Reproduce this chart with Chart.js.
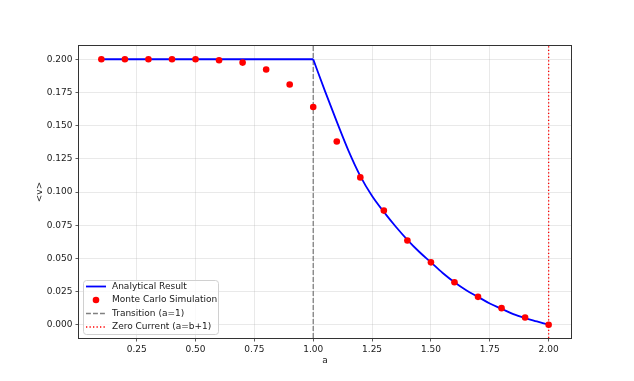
<!DOCTYPE html>
<html>
<head>
<meta charset="utf-8">
<script src="https://cdn.jsdelivr.net/npm/chart.js@4"></script>
<style>
  html, body { margin: 0; padding: 0; background: #fff; }
  #wrap { width: 634px; height: 381px; position: relative; }
</style>
</head>
<body>
<div id="wrap"><canvas id="c" width="634" height="381"></canvas></div>
<script>
// ---- Data ----
const mcA = [0.1, 0.2, 0.3, 0.4, 0.5, 0.6, 0.7, 0.8, 0.9, 1.0, 1.1, 1.2, 1.3, 1.4, 1.5, 1.6, 1.7, 1.8, 1.9, 2.0];
const mcV = [0.200, 0.200, 0.200, 0.200, 0.200, 0.1993, 0.1975, 0.1923, 0.181, 0.164, 0.138, 0.111, 0.086, 0.0635, 0.047, 0.032, 0.021, 0.0125, 0.0055, 0.0];

const flatA = [0.1, 1.0];
const flatV = [0.2, 0.2];
const curveA = [1.0, 1.05, 1.10, 1.15, 1.20, 1.25, 1.30, 1.35, 1.40, 1.45, 1.50, 1.55, 1.60, 1.65, 1.70, 1.75, 1.80, 1.85, 1.90, 1.95, 2.00];
const curveV = [0.200, 0.176, 0.153, 0.131, 0.112, 0.097, 0.085, 0.074, 0.064, 0.055, 0.047, 0.039, 0.032, 0.026, 0.021, 0.016, 0.012, 0.008, 0.005, 0.0025, 0.0];

const transitionA = 1.0;
const zeroCurrentA = 2.0;

const xTicks = [0.25, 0.50, 0.75, 1.00, 1.25, 1.50, 1.75, 2.00];
const yTicks = [0.000, 0.025, 0.050, 0.075, 0.100, 0.125, 0.150, 0.175, 0.200];
const xRange = [0.005, 2.095];
const yRange = [-0.01, 0.21];

const legendLabels = ['Analytical Result', 'Monte Carlo Simulation', 'Transition (a=1)', 'Zero Current (a=b+1)'];

const FONT = 'DejaVu Sans';
const TXT = '#1a1a1a';

const toXY = (xs, ys) => xs.map((x, i) => ({ x: x, y: ys[i] }));

const blue = '#0000ff', red = '#ff0000', gray = '#808080';

const frameAndLegend = {
  id: 'frameAndLegend',
  beforeDatasetsDraw(chart) {
    const { ctx, chartArea: ca, scales } = chart;
    // vertical reference lines
    ctx.save();
    ctx.beginPath();
    ctx.rect(ca.left, ca.top, ca.right - ca.left, ca.bottom - ca.top);
    ctx.clip();
    const xt = scales.x.getPixelForValue(transitionA);
    ctx.strokeStyle = gray; ctx.lineWidth = 1.3; ctx.setLineDash([4.9, 2.1]);
    ctx.beginPath(); ctx.moveTo(xt, ca.bottom); ctx.lineTo(xt, ca.top); ctx.stroke();
    const xz = scales.x.getPixelForValue(zeroCurrentA);
    ctx.strokeStyle = red; ctx.setLineDash([1.3, 2.2]);
    ctx.beginPath(); ctx.moveTo(xz, ca.bottom); ctx.lineTo(xz, ca.top); ctx.stroke();
    ctx.restore();
  },
  afterDatasetsDraw(chart) {
    const { ctx, chartArea: ca } = chart;
    ctx.save();
    // frame
    ctx.strokeStyle = '#333'; ctx.lineWidth = 1; ctx.setLineDash([]);
    ctx.strokeRect(Math.round(ca.left) - 0.5, Math.round(ca.top) - 0.5, Math.round(ca.right - ca.left) + 1, Math.round(ca.bottom - ca.top) + 1);
    // legend
    const bx = 83.5, by = 280.5, bw = 135, bh = 54, r = 3;
    ctx.beginPath();
    ctx.moveTo(bx + r, by);
    ctx.lineTo(bx + bw - r, by); ctx.arcTo(bx + bw, by, bx + bw, by + r, r);
    ctx.lineTo(bx + bw, by + bh - r); ctx.arcTo(bx + bw, by + bh, bx + bw - r, by + bh, r);
    ctx.lineTo(bx + r, by + bh); ctx.arcTo(bx, by + bh, bx, by + bh - r, r);
    ctx.lineTo(bx, by + r); ctx.arcTo(bx, by, bx + r, by, r);
    ctx.closePath();
    ctx.fillStyle = 'rgba(255,255,255,0.8)'; ctx.fill();
    ctx.strokeStyle = '#d0d0d0'; ctx.lineWidth = 1; ctx.stroke();

    const rows = [286.5, 300, 313.5, 327];
    const hx0 = 86, hx1 = 106, tx = 112;
    // handle 1: blue solid
    ctx.strokeStyle = blue; ctx.lineWidth = 1.8;
    ctx.beginPath(); ctx.moveTo(hx0, rows[0]); ctx.lineTo(hx1, rows[0]); ctx.stroke();
    // handle 2: red dot
    ctx.fillStyle = red;
    ctx.beginPath(); ctx.arc((hx0 + hx1) / 2, rows[1], 3.3, 0, Math.PI * 2); ctx.fill();
    // handle 3: gray dashed
    ctx.strokeStyle = gray; ctx.lineWidth = 1.3; ctx.setLineDash([4.9, 2.1]);
    ctx.beginPath(); ctx.moveTo(hx0, rows[2]); ctx.lineTo(hx1, rows[2]); ctx.stroke();
    // handle 4: red dotted
    ctx.strokeStyle = red; ctx.setLineDash([1.3, 2.2]);
    ctx.beginPath(); ctx.moveTo(hx0, rows[3]); ctx.lineTo(hx1, rows[3]); ctx.stroke();
    ctx.setLineDash([]);
    ctx.fillStyle = TXT; ctx.font = '9px "' + FONT + '"';
    ctx.textBaseline = 'middle'; ctx.textAlign = 'left';
    legendLabels.forEach((t, i) => ctx.fillText(t, tx, rows[i]));
    ctx.restore();
  }
};

new Chart(document.getElementById('c'), {
  type: 'scatter',
  data: {
    datasets: [
      { label: legendLabels[0], data: toXY(flatA, flatV), showLine: true, borderColor: blue, borderWidth: 1.8, pointRadius: 0, fill: false, order: 2 },
      { label: legendLabels[0] + ' (decay)', data: toXY(curveA, curveV), showLine: true, borderColor: blue, borderWidth: 1.8, pointRadius: 0, fill: false, cubicInterpolationMode: 'monotone', order: 2 },
      { label: legendLabels[1], data: toXY(mcA, mcV), showLine: false, backgroundColor: red, borderColor: red, borderWidth: 0, pointRadius: 3.3, order: 1 }
    ]
  },
  options: {
    responsive: false,
    animation: false,
    devicePixelRatio: 1,
    layout: { padding: { left: 0, top: 46, right: 63, bottom: 0 } },
    plugins: { legend: { display: false }, tooltip: { enabled: false } },
    scales: {
      x: {
        type: 'linear', min: xRange[0], max: xRange[1],
        afterBuildTicks: s => { s.ticks = xTicks.map(v => ({ value: v })); },
        afterFit: s => { s.height = 43; },
        ticks: { color: TXT, font: { family: FONT, size: 9 }, padding: 3, maxRotation: 0, autoSkip: false, callback: v => Number(v).toFixed(2) },
        grid: { color: 'rgba(176,176,176,0.35)', lineWidth: 0.8, drawTicks: true, tickLength: 3.5, tickColor: '#333', tickWidth: 0.8 },
        border: { display: false },
        title: { display: true, text: 'a', color: TXT, font: { family: FONT, size: 9 }, padding: { top: 0, bottom: 14.6 } }
      },
      y: {
        type: 'linear', min: yRange[0], max: yRange[1],
        afterBuildTicks: s => { s.ticks = yTicks.map(v => ({ value: v })); },
        afterFit: s => { s.width = 79; },
        ticks: { color: TXT, font: { family: FONT, size: 9 }, padding: 3, autoSkip: false, callback: v => Number(v).toFixed(3) },
        grid: { color: 'rgba(176,176,176,0.35)', lineWidth: 0.8, drawTicks: true, tickLength: 3.5, tickColor: '#333', tickWidth: 0.8 },
        border: { display: false },
        title: { display: true, text: '<v>', color: TXT, font: { family: FONT, size: 9 }, padding: { top: 34.6, bottom: 0 } }
      }
    }
  },
  plugins: [frameAndLegend]
});
</script>
</body>
</html>
